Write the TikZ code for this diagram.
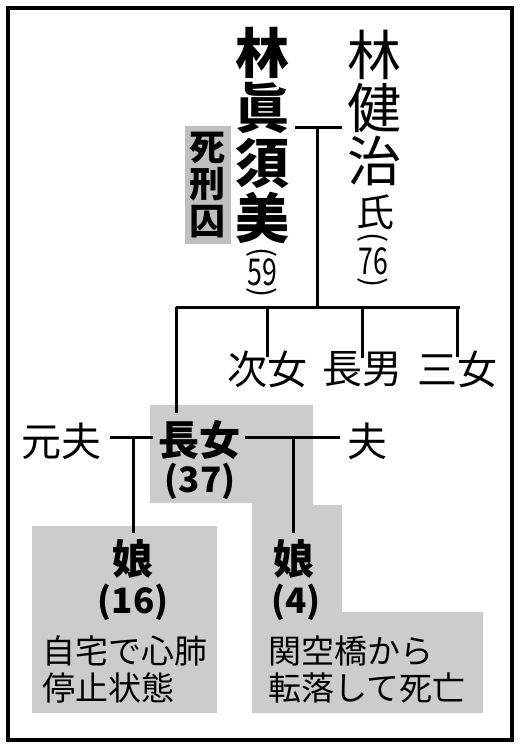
\documentclass[tikz,border=0pt]{standalone}
\usepackage{fontspec}
\setmainfont{Noto Sans CJK JP}
\usetikzlibrary{positioning,calc}
\tikzset{
  bvert/.style={align=center,inner sep=0pt,font=\bfseries\fontsize{54}{55}\selectfont},
  rvert/.style={align=center,inner sep=0pt,font=\fontsize{54}{53}\selectfont},
  vdig/.style={inner sep=0pt,font=\fontsize{37}{37}\selectfont},
  vpar/.style={inner sep=0pt,rotate=-90,font=\fontsize{30}{30}\selectfont},
  tagbox/.style={align=center,fill=black!25,inner xsep=5pt,inner ysep=6pt,font=\bfseries\fontsize{36}{37}\selectfont},
  kin/.style={inner sep=0pt,font=\fontsize{40}{40}\selectfont},
  bkin/.style={inner sep=0pt,font=\bfseries\fontsize{41}{41}\selectfont},
  age/.style={inner sep=0pt,font=\bfseries\fontsize{35}{35}\selectfont},
  note/.style={align=left,inner sep=0pt,anchor=north west,font=\fontsize{33}{37}\selectfont},
  shade/.style={fill=black!20,draw=none},
  ln/.style={line width=3pt}
}
\begin{document}
\begin{tikzpicture}[x=1pt,y=-1pt]
\useasboundingbox (0,0) rectangle (528,750);
\draw[line width=4pt] (8,8) rectangle (512,740);
% grey panels
\fill[shade] (150,405) -- (313,405) -- (313,505) -- (342,505) -- (342,612) -- (483,612) -- (483,713) -- (252,713) -- (252,503) -- (150,503) -- cycle;
\fill[shade] (32,526) rectangle (217,713);
% parents
\node[bvert] (masumi) at (262,136) {林\\眞\\須\\美};
\node[vpar] (p59a) at (262,253) {(};
\node[vdig] (age59) at (262,272) {\scalebox{.72}[1]{59}};
\node[vpar] (p59b) at (262,293) {)};
\node[tagbox] (shikei) at (207.5,185) {死\\刑\\囚};
\node[rvert] (kenji) at (374,108) {林\\健\\治};
\node[inner sep=0pt,font=\fontsize{38}{38}\selectfont] (shi) at (375,212) {氏};
\node[vpar] (p76a) at (373,238) {(};
\node[vdig] (age76) at (373,261) {\scalebox{.72}[1]{76}};
\node[vpar] (p76b) at (373,283) {)};
% children
\node[kin] (jinan) at (267,369) {次女};
\node[kin] (chounan) at (362,369) {長男};
\node[kin] (sanjo) at (457,369) {三女};
\node[kin] (motoott) at (61,441) {元夫};
\node[bkin] (choujo) at (199,440) {長女};
\node[age] (age37) at (200,481) {(37)};
\node[kin] (otto) at (367,441) {夫};
% grandchildren
\node[bkin] (musumeA) at (133,559) {娘};
\node[age] (age16) at (133,602) {(16)};
\node[note] (noteA) at (42,636) {自宅で心肺\\停止状態};
\node[bkin] (musumeB) at (294,559) {娘};
\node[age] (age4) at (296,602) {(4)};
\node[note] (noteB) at (268,636) {関空橋から\\転落して死亡};
% lines
\coordinate (pj) at (317,127);
\coordinate (bar) at (317,307);
\draw[ln] (295,127) -- (342,127);
\draw[ln] (pj) -- (bar);
\draw[ln] (176,307) -- (460,307);
\draw[ln] (jinan.north |- bar) -- ([yshift=-7pt]jinan.north);
\draw[ln] (chounan.north |- bar) -- ([yshift=-7pt]chounan.north);
\draw[ln] (sanjo.north |- bar) -- ([yshift=-7pt]sanjo.north);
\draw[ln] (176,307) -- (176,413);
\coordinate (exj) at (133,437);
\coordinate (hj) at (293,437);
\draw[ln] (110,437) -- (153,437);
\draw[ln] (245,437) -- (340,437);
\draw[ln] (exj) -- (musumeA.north |- 0,533);
\draw[ln] (hj) -- (hj |- 0,533);
\end{tikzpicture}
\end{document}
